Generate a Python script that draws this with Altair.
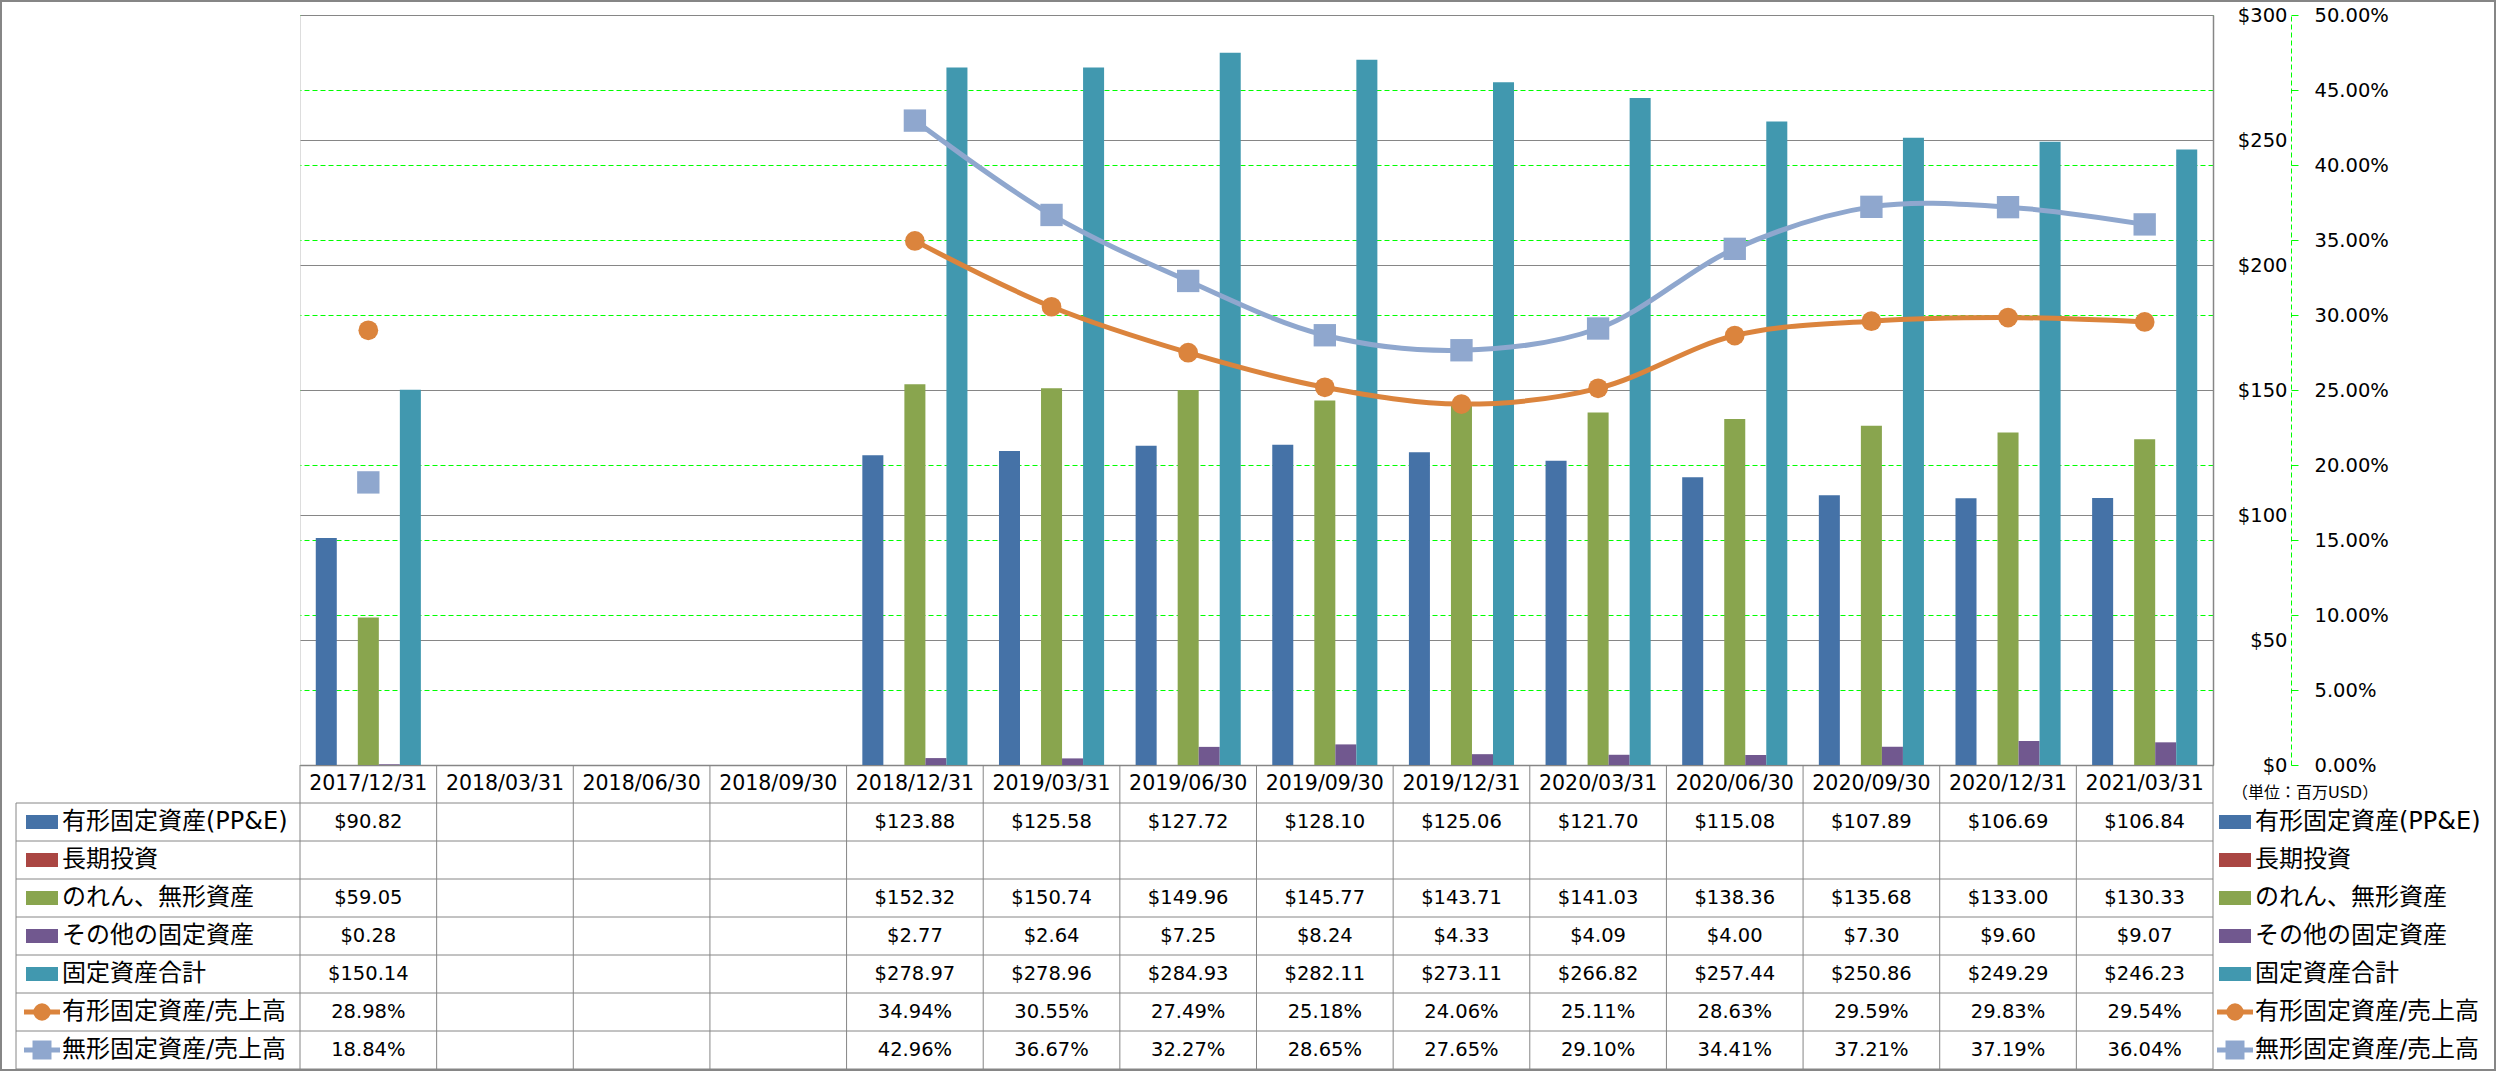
import altair as alt
import pandas as pd

# ---------------- data ----------------
dates = ["2017/12/31", "2018/03/31", "2018/06/30", "2018/09/30", "2018/12/31",
         "2019/03/31", "2019/06/30", "2019/09/30", "2019/12/31", "2020/03/31",
         "2020/06/30", "2020/09/30", "2020/12/31", "2021/03/31"]

ppe = [90.82, None, None, None, 123.88, 125.58, 127.72, 128.10, 125.06, 121.70, 115.08, 107.89, 106.69, 106.84]
lti = [None, None, None, None, None, None, None, None, None, None, None, None, None, None]
goodwill = [59.05, None, None, None, 152.32, 150.74, 149.96, 145.77, 143.71, 141.03, 138.36, 135.68, 133.00, 130.33]
other = [0.28, None, None, None, 2.77, 2.64, 7.25, 8.24, 4.33, 4.09, 4.00, 7.30, 9.60, 9.07]
total = [150.14, None, None, None, 278.97, 278.96, 284.93, 282.11, 273.11, 266.82, 257.44, 250.86, 249.29, 246.23]
ppe_ratio = [0.2898, None, None, None, 0.3494, 0.3055, 0.2749, 0.2518, 0.2406, 0.2511, 0.2863, 0.2959, 0.2983, 0.2954]
intang_ratio = [0.1884, None, None, None, 0.4296, 0.3667, 0.3227, 0.2865, 0.2765, 0.2910, 0.3441, 0.3721, 0.3719, 0.3604]

bar_names = ["有形固定資産(PP&E)", "長期投資", "のれん、無形資産", "その他の固定資産", "固定資産合計"]
line_names = ["有形固定資産/売上高", "無形固定資産/売上高"]
colors = ["#4572A7", "#AA4643", "#89A54E", "#71588F", "#4198AF", "#DB843D", "#8FA7CE"]
dollar_ticks = [0, 50, 100, 150, 200, 250, 300]
pct_ticks = [0, 0.05, 0.10, 0.15, 0.20, 0.25, 0.30, 0.35, 0.40, 0.45, 0.50]
unit_label = "（単位：百万USD）"

# ---------------- styling ----------------
FONT = "DejaVu Sans, Noto Sans CJK JP"
GRAY = "#868686"
GREEN = "#00FF00"
W, H = 1913, 750
ROW_TOP, ROW_BOTTOM = 750, 1054
LEFT = -284
NUM_SIZE = 19.5

all_names = bar_names + line_names
bar_series = [ppe, lti, goodwill, other, total]
line_series = [ppe_ratio, intang_ratio]

# ---------------- tables ----------------
bars_df = pd.DataFrame([
    dict(date=d, series=n, value=v)
    for n, vals in zip(bar_names, bar_series)
    for d, v in zip(dates, vals) if v is not None
])

line_recs = []
for n, vals in zip(line_names, line_series):
    seg = 0
    for d, v in zip(dates, vals):
        if v is None:
            seg += 1
            continue
        line_recs.append(dict(date=d, series=n, value=v, seg=f"{n}-{seg}"))
lines_df = pd.DataFrame(line_recs)

table_recs = []
for n, vals in zip(bar_names, bar_series):
    for d, v in zip(dates, vals):
        if v is not None:
            table_recs.append(dict(date=d, row=n, label=f"${v:.2f}"))
for n, vals in zip(line_names, line_series):
    for d, v in zip(dates, vals):
        if v is not None:
            table_recs.append(dict(date=d, row=n, label=f"{v * 100:.2f}%"))
table_df = pd.DataFrame(table_recs)
header_df = pd.DataFrame({"date": dates, "row": ["header"] * len(dates), "label": dates})
names_df = pd.DataFrame({"row": all_names, "series": all_names})
bar_names_df = pd.DataFrame({"row": bar_names, "series": bar_names})
line_names_df = pd.DataFrame({"row": line_names, "series": line_names})
one_df = pd.DataFrame({"row": ["header"], "label": [unit_label]})
vlines_df = pd.DataFrame({"date": dates})
last_date_df = pd.DataFrame({"date": [dates[-1]]})
last_row_df = pd.DataFrame({"row": [all_names[-1]]})

# ---------------- scales / encodings ----------------
color_scale = alt.Scale(domain=all_names, range=colors)
x_scale = alt.Scale(type="band", domain=dates, paddingInner=0, paddingOuter=0)
x_axis = alt.Axis(title=None, labels=False, ticks=False, domain=True, domainColor=GRAY,
                  domainWidth=1.5, grid=False)
rows = ["header"] + all_names
row_scale = alt.Scale(type="band", domain=rows, range=[ROW_TOP, ROW_BOTTOM], paddingInner=0, paddingOuter=0)
pct_scale = alt.Scale(domain=[0, 0.5], nice=False, zero=True)


def X(**kw):
    return alt.X("date:N", scale=x_scale, axis=x_axis, **kw)


def ROW(**kw):
    return alt.Y("row:N", scale=row_scale, axis=None, **kw)


COLOR = alt.Color("series:N", scale=color_scale, legend=None)

dollar_axis = alt.Axis(orient="right", values=dollar_ticks, format="$,.0f", title=None,
                       grid=True, gridColor=GRAY, gridWidth=1, domain=True, domainColor=GRAY,
                       domainWidth=1.5, ticks=False, labelPadding=74, labelAlign="right",
                       labelFont=FONT, labelFontSize=NUM_SIZE, labelColor="black", labelFlush=False,
                       labelOverlap=False, labelBaseline="middle")
pct_axis = alt.Axis(orient="right", offset=78, values=pct_ticks, format=".2%", title=None,
                    grid=True, gridColor=GREEN, gridDash=[5, 3], gridWidth=1, domain=True,
                    domainColor=GREEN, domainDash=[5, 3], domainWidth=1, ticks=True,
                    tickColor=GREEN, tickSize=7, tickWidth=1, labelPadding=16, labelAlign="left",
                    labelFont=FONT, labelFontSize=NUM_SIZE, labelColor="black", labelFlush=False,
                    labelOverlap=False, labelBaseline="middle")

# ---------------- layers ----------------
# invisible carrier for the percentage axis (so its grid sits beneath the $ grid)
pct_axis_layer = alt.Chart(lines_df).mark_point(opacity=0).encode(
    x=X(), y=alt.Y("value:Q", scale=pct_scale, axis=pct_axis)
)

bars = alt.Chart(bars_df).mark_bar().encode(
    x=X(),
    xOffset=alt.XOffset("series:N", scale=alt.Scale(domain=bar_names, paddingInner=0, paddingOuter=0.75)),
    y=alt.Y("value:Q", scale=alt.Scale(domain=[0, 300], nice=False, zero=True), axis=dollar_axis),
    color=COLOR,
)

lines = alt.Chart(lines_df).mark_line(interpolate="catmull-rom", strokeWidth=5).encode(
    x=X(), y=alt.Y("value:Q", scale=pct_scale, axis=None), color=COLOR, detail="seg:N"
)

pts_c = alt.Chart(lines_df).transform_filter(alt.datum.series == line_names[0]).mark_point(
    shape="circle", filled=True, size=390, opacity=1
).encode(x=X(), y=alt.Y("value:Q", scale=pct_scale, axis=None), color=COLOR)

pts_s = alt.Chart(lines_df).transform_filter(alt.datum.series == line_names[1]).mark_point(
    shape="square", filled=True, size=500, opacity=1
).encode(x=X(), y=alt.Y("value:Q", scale=pct_scale, axis=None), color=COLOR)

# table grid
hlines = alt.Chart(names_df).mark_rule(color=GRAY, strokeWidth=1).encode(
    y=ROW(bandPosition=0), x=alt.value(LEFT), x2=alt.value(W)
)
hline_bottom = alt.Chart(last_row_df).mark_rule(color=GRAY, strokeWidth=1).encode(
    y=ROW(bandPosition=1), x=alt.value(LEFT), x2=alt.value(W)
)
vlines = alt.Chart(vlines_df).mark_rule(color=GRAY, strokeWidth=1).encode(
    x=X(bandPosition=0), y=alt.value(ROW_TOP), y2=alt.value(ROW_BOTTOM)
)
vline_last = alt.Chart(last_date_df).mark_rule(color=GRAY, strokeWidth=1).encode(
    x=X(bandPosition=1), y=alt.value(ROW_TOP), y2=alt.value(ROW_BOTTOM)
)
vline_left = alt.Chart(one_df).mark_rule(color=GRAY, strokeWidth=1).encode(
    x=alt.value(LEFT), y=alt.value(ROW_TOP + 38), y2=alt.value(ROW_BOTTOM)
)

cells = alt.Chart(table_df).mark_text(font=FONT, fontSize=NUM_SIZE, align="center", baseline="middle",
                                      color="black").encode(x=X(), y=ROW(), text="label:N")
header = alt.Chart(header_df).mark_text(font=FONT, fontSize=20.5, align="center", baseline="middle",
                                        color="black").encode(x=X(), y=ROW(), text="label:N")


def legend_block(x0, x1, xtext):
    xc = (x0 + x1) / 2
    sw = alt.Chart(bar_names_df).mark_rule(strokeWidth=14, strokeCap="butt").encode(
        x=alt.value(x0), x2=alt.value(x1), y=ROW(), color=COLOR)
    ln = alt.Chart(line_names_df).mark_rule(strokeWidth=5, strokeCap="butt").encode(
        x=alt.value(x0 - 2), x2=alt.value(x1 + 2), y=ROW(), color=COLOR)
    mc = alt.Chart(line_names_df).transform_filter(alt.datum.series == line_names[0]).mark_point(
        shape="circle", filled=True, size=300, opacity=1).encode(x=alt.value(xc), y=ROW(), color=COLOR)
    ms = alt.Chart(line_names_df).transform_filter(alt.datum.series == line_names[1]).mark_point(
        shape="square", filled=True, size=360, opacity=1).encode(x=alt.value(xc), y=ROW(), color=COLOR)
    tx = alt.Chart(names_df).mark_text(font=FONT, fontSize=24, align="left", baseline="middle",
                                       color="black").encode(x=alt.value(xtext), y=ROW(), text="row:N")
    return [sw, ln, mc, ms, tx]


left_legend = legend_block(-274, -242, -238)
right_legend = legend_block(1919, 1951, 1955)

unit = alt.Chart(one_df).mark_text(font=FONT, fontSize=16, align="left", baseline="middle", dy=9,
                                   color="black").encode(x=alt.value(1932), y=ROW(), text="label:N")

frame = alt.Chart(one_df).mark_rect(fillOpacity=0, stroke=GRAY, strokeWidth=2).encode(
    x=alt.value(-299), x2=alt.value(2195), y=alt.value(-14), y2=alt.value(1055)
)

chart = alt.layer(
    frame, pct_axis_layer, bars, lines, pts_c, pts_s,
    hlines, hline_bottom, vlines, vline_last, vline_left,
    cells, header, *left_legend, *right_legend, unit
).resolve_scale(
    y="independent"
).properties(
    width=W, height=H,
    padding={"left": 300, "top": 15, "right": 284, "bottom": 306},
    autosize=alt.AutoSizeParams(type="none"),
).configure_view(stroke=None).configure(background="white")

chart.save("out.html", embed_options={"renderer": "svg", "actions": False})
